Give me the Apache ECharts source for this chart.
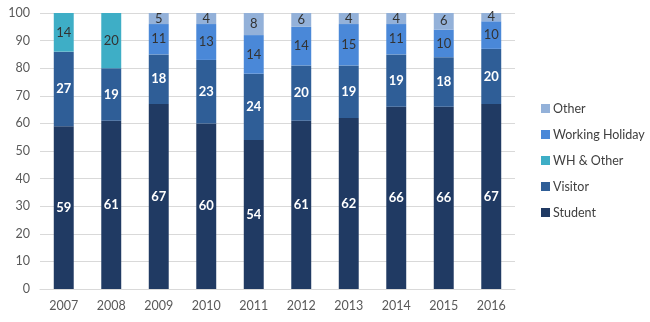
<!DOCTYPE html>
<html><head><meta charset="utf-8">
<script src="https://cdn.jsdelivr.net/npm/echarts@6/dist/echarts.min.js"></script>
<style>html,body{margin:0;padding:0;background:#fff}#c{width:650px;height:322px}</style>
</head><body><div id="c"></div>
<script>
const years = ['2007','2008','2009','2010','2011','2012','2013','2014','2015','2016'];
const student = [59,61,67,60,54,61,62,66,66,67];
const visitor = [27,19,18,23,24,20,19,19,18,20];
const whOther = [14,20,null,null,null,null,null,null,null,null];
const workingHoliday = [null,null,11,13,14,14,15,11,10,10];
const other = [null,null,5,4,8,6,4,4,6,4];
const yTicks = [0,10,20,30,40,50,60,70,80,90,100];

const font = 'Lato, "Open Sans", sans-serif';
function s(name, data, color, labelColor, weight){
  return {name, type:'bar', stack:'t', data, barWidth:'42%',
    itemStyle:{color},
    label:{show:true, position:'inside', color:labelColor, fontSize:13, fontWeight:weight, fontFamily:font}};
}
const chart = echarts.init(document.getElementById('c'));
chart.setOption({
  animation:false,
  grid:{left:40,right:135,top:13,bottom:33},
  legend:{orient:'vertical', left:536, top:97, itemWidth:9, itemHeight:9, itemGap:13,
    icon:'rect', textStyle:{color:'#404040', fontSize:12.5, fontFamily:font, padding:[0,0,0,-2]},
    data:['Other','Working Holiday','WH & Other','Visitor','Student']},
  xAxis:{type:'category', data:years, axisTick:{show:false},
    axisLine:{lineStyle:{color:'#d9d9d9'}},
    axisLabel:{color:'#595959', fontSize:12.5, fontFamily:font, margin:10}},
  yAxis:{type:'value', min:yTicks[0], max:yTicks[yTicks.length-1], interval:10,
    axisLabel:{color:'#595959', fontSize:12.5, fontFamily:font, margin:10},
    splitLine:{lineStyle:{color:'#d9d9d9'}}},
  series:[
    s('Student', student, '#203a63', '#ffffff', 'bold'),
    s('Visitor', visitor, '#2f5e97', '#ffffff', 'bold'),
    s('WH & Other', whOther, '#3eaec6', '#333333', 'normal'),
    s('Working Holiday', workingHoliday, '#4a88d8', '#333333', 'normal'),
    s('Other', other, '#93b1d9', '#333333', 'normal')
  ]
});
</script></body></html>
